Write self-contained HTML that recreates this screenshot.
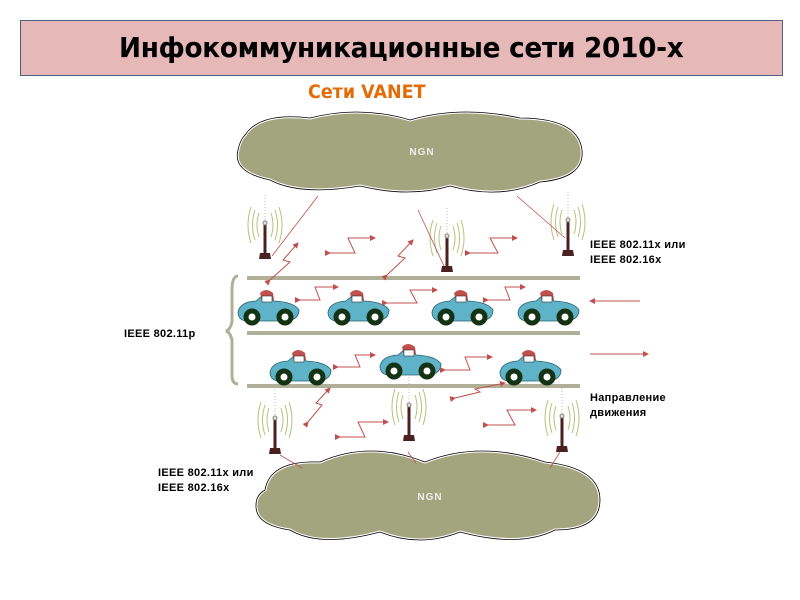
<!DOCTYPE html>
<html><head><meta charset="utf-8"><style>
body{margin:0;background:#fff;width:800px;height:600px;overflow:hidden;position:relative;font-family:"Liberation Sans","DejaVu Sans",sans-serif}
.title{position:absolute;left:20px;top:20px;width:761px;height:54px;background:#e6b8b7;border:1.5px solid #4f6180;text-align:center;line-height:54px;font-family:"DejaVu Sans","Liberation Sans",sans-serif;font-weight:bold;font-size:28px;color:#000;letter-spacing:-0.3px}
.t{position:absolute;font-weight:bold;font-size:11px;color:#000;line-height:15px;letter-spacing:0.3px}
</style></head><body>
<div class="title"><span style="display:inline-block;transform:scaleX(0.94)">Инфокоммуникационные сети 2010-х</span></div>
<div style="position:absolute;left:308px;top:81px;font-family:'DejaVu Sans','Liberation Sans',sans-serif;font-weight:bold;font-size:19px;color:#e36c09;transform:scaleX(0.92);transform-origin:left">Сети VANET</div>
<svg width="800" height="600" style="position:absolute;left:0;top:0">
<defs>
<g id="car">
<path d="M0,22 Q2,12 18,11 L24,6 Q30,2 34,8 L36,11 Q56,12 61,20 Q61,29 50,31 L8,31 Q0,30 0,22Z" fill="#5eb3c8" stroke="#2a6070" stroke-width="0.8"/>
<path d="M22,3 Q28,-3 35,3 L36,10 L24,11Z" fill="#c0504d"/>
<rect x="24" y="6" width="10" height="6" fill="#fff" stroke="#333" stroke-width="0.6"/>
<circle cx="14" cy="27" r="8.5" fill="#143214"/><circle cx="14" cy="27" r="3.5" fill="#fff"/>
<circle cx="47" cy="27" r="8.5" fill="#143214"/><circle cx="47" cy="27" r="3.5" fill="#fff"/>
</g>
<g id="tower">
<g fill="none" stroke="#b5c27a" stroke-width="1">
<path d="M-6,-12 Q-10,0 -6,12"/><path d="M-10,-15 Q-15,0 -10,15"/><path d="M-14,-18 Q-20,0 -14,18"/>
<path d="M6,-12 Q10,0 6,12"/><path d="M10,-15 Q15,0 10,15"/><path d="M14,-18 Q20,0 14,18"/>
</g>
<line x1="0" y1="-30" x2="0" y2="-5" stroke="#bbb" stroke-dasharray="1,2"/>
<rect x="-1.5" y="-2" width="3" height="30" fill="#4a2020"/>
<path d="M-5,28 L5,28 L6,34 L-6,34Z" fill="#4a2020"/>
<circle cx="0" cy="-2" r="2" fill="#dde" stroke="#886"/>
</g>
<marker id="ah" markerWidth="6" markerHeight="6" refX="5" refY="3" orient="auto"><path d="M0,0 L6,3 L0,6Z" fill="#c0504d"/></marker>
</defs>
<g fill="#a3a57f" stroke="#fff" stroke-width="3">
<path d="M245,135 Q260,112 310,118 Q360,105 410,120 Q460,105 520,118 Q578,118 582,150 Q585,178 540,182 Q500,200 450,186 Q410,198 360,186 Q300,196 270,180 Q232,172 238,150 Q240,140 245,135Z"/>
<path d="M265,490 Q270,460 320,462 Q370,440 425,462 Q480,440 545,462 Q600,468 600,500 Q600,530 555,530 Q520,548 460,532 Q420,548 380,532 Q320,548 290,530 Q255,525 256,505 Q256,495 265,490Z"/>
</g>
<g fill="none" stroke="#000" stroke-width="0.8">
<path d="M245,135 Q260,112 310,118 Q360,105 410,120 Q460,105 520,118 Q578,118 582,150 Q585,178 540,182 Q500,200 450,186 Q410,198 360,186 Q300,196 270,180 Q232,172 238,150 Q240,140 245,135Z"/>
<path d="M265,490 Q270,460 320,462 Q370,440 425,462 Q480,440 545,462 Q600,468 600,500 Q600,530 555,530 Q520,548 460,532 Q420,548 380,532 Q320,548 290,530 Q255,525 256,505 Q256,495 265,490Z"/>
</g>
<text x="422" y="155" font-size="10" font-weight="bold" fill="#eee" text-anchor="middle" font-family="Liberation Sans" letter-spacing="1">NGN</text>
<text x="430" y="500" font-size="10" font-weight="bold" fill="#eee" text-anchor="middle" font-family="Liberation Sans" letter-spacing="1">NGN</text>
<g stroke="#b0b098" stroke-width="4">
<line x1="247" y1="278" x2="580" y2="278"/><line x1="247" y1="333" x2="580" y2="333"/><line x1="247" y1="386" x2="580" y2="386"/>
</g>
<path d="M238,276 Q232,276 232,290 L232,322 Q230,330 226,331 Q230,332 232,340 L232,375 Q232,384 238,384" fill="none" stroke="#b0b098" stroke-width="3"/>
<use href="#tower" x="265" y="225"/><use href="#tower" x="447" y="238"/><use href="#tower" x="568" y="222"/>
<use href="#tower" x="275" y="420"/><use href="#tower" x="409" y="407"/><use href="#tower" x="562" y="418"/>
<g stroke="#c0504d" stroke-width="0.8">
<line x1="318" y1="196" x2="272" y2="256"/><line x1="418" y1="210" x2="444" y2="266"/><line x1="517" y1="196" x2="565" y2="238"/>
<line x1="280" y1="455" x2="302" y2="468"/><line x1="408" y1="452" x2="416" y2="463"/><line x1="560" y1="452" x2="550" y2="468"/>
</g>
<use href="#car" x="238" y="290"/><use href="#car" x="328" y="290"/><use href="#car" x="432" y="290"/><use href="#car" x="518" y="290"/>
<use href="#car" x="270" y="350"/><use href="#car" x="380" y="344"/><use href="#car" x="500" y="350"/>
<g stroke="#c0504d" stroke-width="1" fill="none" marker-start="url(#ah)" marker-end="url(#ah)">
<path d="M330,253 L355,253 L348,238 L375,238"/>
<path d="M470,253 L498,253 L490,238 L517,238"/>
<path d="M300,300 L320,300 L315,287 L338,287"/>
<path d="M387,303 L417,303 L410,290 L437,290"/>
<path d="M488,300 L510,300 L505,287 L525,287"/>
<path d="M338,367 L360,367 L355,355 L375,355"/>
<path d="M445,370 L470,370 L465,357 L492,357"/>
<path d="M340,437 L365,437 L358,422 L388,422"/>
<path d="M488,425 L515,425 L507,410 L536,410"/>
<path d="M270,280 L290,262 L283,260 L298,243" />
<path d="M387,275 L405,258 L398,256 L413,240"/>
<path d="M308,422 L322,405 L316,403 L330,388"/>
<path d="M455,398 L480,392 L475,389 L505,383"/>
</g>
<g stroke="#c0504d" stroke-width="1" marker-end="url(#ah)">
<line x1="640" y1="301" x2="590" y2="301"/><line x1="590" y1="354" x2="648" y2="354"/>
</g>
</svg>
<div class="t" style="left:590px;top:238px">IEEE 802.11x или<br>IEEE 802.16x</div>
<div class="t" style="left:124px;top:327px">IEEE 802.11p</div>
<div class="t" style="left:590px;top:391px">Направление<br>движения</div>
<div class="t" style="left:158px;top:466px">IEEE 802.11x или<br>IEEE 802.16x</div>
</body></html>
